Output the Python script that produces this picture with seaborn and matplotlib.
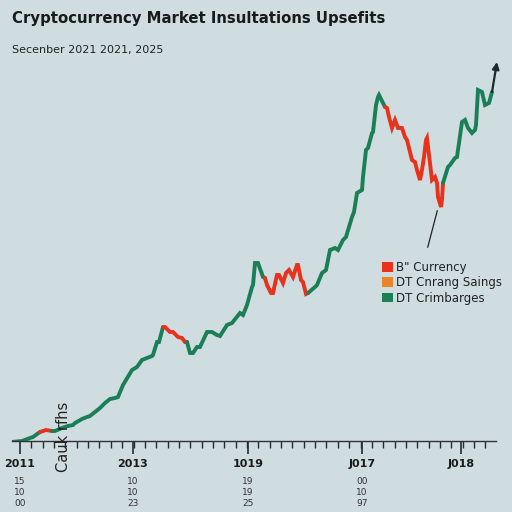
import matplotlib
matplotlib.use("Agg")
import matplotlib.pyplot as plt
from matplotlib.patches import Patch
import numpy as np
import pandas as pd
import seaborn as sns

# price path (x = trading step, y = price index)
step = [0, 10, 18, 21, 28, 34, 40, 43, 50, 56, 61, 63, 70, 75, 78, 83, 88, 93, 98, 103,
        106, 111, 120, 125, 130, 140, 141, 145, 147, 151, 153, 158, 161, 166, 170, 173,
        175, 178, 181, 185, 188, 195, 200, 205, 208, 215, 220, 228, 231, 235, 240, 241,
        243, 246, 251, 253, 255, 259, 261, 265, 267, 271, 274, 277, 281, 285, 286, 289,
        291, 294, 296, 303, 305, 310, 314, 318, 323, 326, 331, 334, 340, 342, 345, 350,
        351, 354, 356, 360, 361, 364, 366, 367, 373, 375, 377, 380, 383, 386, 390, 393,
        395, 400, 403, 405, 408, 410, 412, 414, 415, 420, 423, 425, 426, 429, 430, 431,
        436, 438, 443, 445, 450, 453, 456, 460, 463, 464, 466, 470, 473, 477, 480]
price = [-1, 0, 3, 4, 9, 11, 10, 10, 13, 15, 16, 18, 22, 24, 25, 29, 33, 38, 42, 43,
         44, 56, 71, 74, 81, 85, 86, 99, 99, 114, 114, 109, 109, 104, 103, 99,
         99, 88, 88, 94, 94, 109, 109, 106, 105, 116, 118, 128, 126, 136, 154, 156,
         178, 178, 164, 163, 156, 148, 148, 166, 166, 158, 168, 171, 164, 176, 176, 161,
         159, 147, 148, 154, 156, 168, 171, 191, 193, 191, 201, 204, 224, 229, 248, 251,
         264, 291, 293, 308, 309, 336, 344, 346, 334, 333, 324, 313, 321, 313, 313, 304,
         301, 281, 279, 271, 261, 271, 284, 301, 303, 261, 264, 258, 244, 234, 241, 258,
         274, 276, 283, 284, 319, 321, 313, 308, 311, 316, 351, 349, 336, 338, 349]
# index ranges (start, end) where the market was falling
down_runs = [(4, 6), (29, 36), (55, 70), (92, 115)]

final_price = 379
final_step = 485

labels = ["B\" Currency", "DT Cnrang Saings", "DT Crimbarges"]
label_colors = ["#e8321c", "#e8842a", "#1b7f56"]

year_ticks = [8, 121, 236, 350, 449]
year_labels = ["2011", "2013", "1019", "J017", "J018"]
sub_labels = ["15\n10\n00", "10\n10\n23", "19\n19\n25", "00\n10\n97", ""]

bg = "#cfdce0"
up_color = "#1b7f56"
down_color = "#e8321c"

df = pd.DataFrame({"step": step, "price": price})

sns.set_theme(style="ticks")
plt.rcParams["font.family"] = ["DejaVu Sans"]

fig = plt.figure(figsize=(5.12, 5.12), dpi=100, facecolor=bg)
ax = fig.add_axes([12 / 512, 71 / 512, 484 / 512, 386 / 512])
ax.set_facecolor(bg)

# split the path into rising/falling pieces
bounds = []
prev = 0
for a, b in down_runs:
    if a > prev:
        bounds.append((prev, a, up_color))
    bounds.append((a, b, down_color))
    prev = b
bounds.append((prev, len(df) - 1, up_color))

for a, b, c in bounds:
    seg = df.iloc[a:b + 1]
    sns.lineplot(data=seg, x="step", y="price", ax=ax, color=c, lw=2.8,
                 sort=False, estimator=None, solid_joinstyle="miter")

ax.annotate("", xy=(final_step, final_price), xytext=(step[-1], price[-1]),
            annotation_clip=False,
            arrowprops=dict(arrowstyle="-|>", color="#1e2a2a", lw=1.6,
                            mutation_scale=10, shrinkA=0, shrinkB=0))
ax.annotate("", xy=(426, 233), xytext=(415, 191), annotation_clip=False,
            arrowprops=dict(arrowstyle="-", color="#222", lw=0.9))

ax.set_xlim(0, 484)
ax.set_ylim(0, 386)
sns.despine(ax=ax, left=True)
ax.spines["bottom"].set_color("#333")
ax.spines["bottom"].set_linewidth(1.0)
ax.set_yticks([])
ax.set_xticks(year_ticks)
ax.set_xticklabels(year_labels, fontsize=8, fontweight="bold", color="#1a1a1a")
ax.set_xticks(np.arange(8, 484, 11.35), minor=True)
ax.tick_params(axis="x", which="major", length=9, width=1.2, color="#2a2a2a",
               direction="out", pad=4, bottom=True)
ax.tick_params(axis="x", which="minor", length=5, width=1.0, color="#2a2a2a",
               direction="out", bottom=True)
ax.set_xlabel("")
ax.set_ylabel("")

for x, s in zip(year_ticks, sub_labels):
    ax.text(x, -0.094, s, transform=ax.get_xaxis_transform(), ha="center",
            va="top", fontsize=6.5, color="#333", linespacing=1.3)

ax.text(51, -0.08, "Cauk rfhs", transform=ax.get_xaxis_transform(),
        rotation=90, ha="center", va="bottom", fontsize=10.5, color="#222")

handles = [Patch(facecolor=c, edgecolor="none") for c in label_colors]
fig.legend(handles, labels, loc="upper left", bbox_to_anchor=(376 / 512, 1 - 255 / 512),
           frameon=False, fontsize=8.5, handlelength=0.9, handleheight=0.9,
           handletextpad=0.3, labelspacing=0.2, borderpad=0, labelcolor="#222")

fig.text(12 / 512, 1 - 18 / 512, "Cryptocurrency Market Insultations Upsefits",
         fontsize=10.7, fontweight="bold", color="#1a1a1a", va="center")
fig.text(12 / 512, 1 - 50 / 512, "Secenber 2021 2021, 2025",
         fontsize=8, color="#222", va="center")

fig.savefig("out.png", dpi=100, facecolor=bg)
